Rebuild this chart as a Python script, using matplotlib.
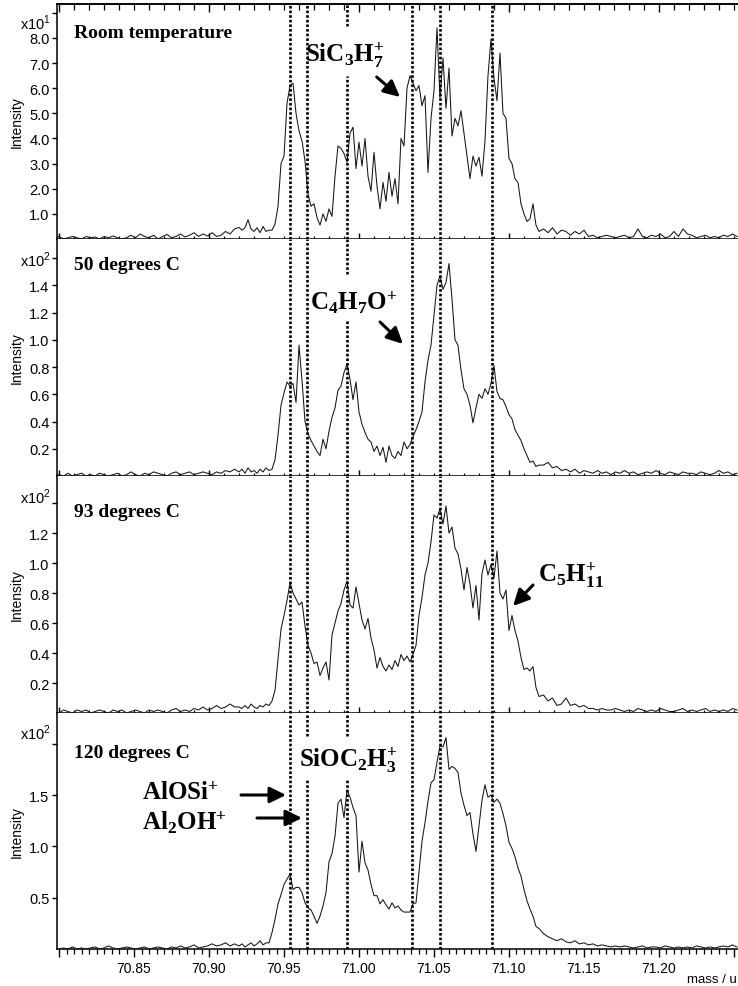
import matplotlib
matplotlib.use('Agg')
import matplotlib.pyplot as plt
from matplotlib.ticker import MultipleLocator, FixedLocator, NullFormatter

plt.rcParams['font.family'] = ['Liberation Sans', 'DejaVu Sans']
plt.rcParams['mathtext.fontset'] = 'custom'
plt.rcParams['mathtext.rm'] = 'Liberation Serif'
plt.rcParams['mathtext.bf'] = 'Liberation Serif:bold'
plt.rcParams['mathtext.sf'] = 'Liberation Sans'

# ---------------- data ----------------
mass_left = [70.797, 70.800, 70.803, 70.806, 70.809, 70.812, 70.815, 70.818, 70.821, 70.824,
             70.827, 70.830, 70.833, 70.836, 70.839, 70.842, 70.845, 70.848, 70.851, 70.854,
             70.857, 70.860, 70.863, 70.866, 70.869, 70.872, 70.875, 70.878, 70.881, 70.884,
             70.887, 70.890, 70.893, 70.896, 70.899, 70.902, 70.905, 70.908, 70.911, 70.914,
             70.917]
mass_peak = [70.920, 70.922, 70.924, 70.926, 70.928, 70.930, 70.932, 70.934, 70.936, 70.938,
             70.940, 70.942, 70.944, 70.946, 70.948, 70.950, 70.952, 70.954, 70.956, 70.958,
             70.960, 70.962, 70.964, 70.966, 70.968, 70.970, 70.972, 70.974, 70.976, 70.978,
             70.980, 70.982, 70.984, 70.986, 70.988, 70.990, 70.992, 70.994, 70.996, 70.998,
             71.000, 71.002, 71.004, 71.006, 71.008, 71.010, 71.012, 71.014, 71.016, 71.018,
             71.020, 71.022, 71.024, 71.026, 71.028, 71.030, 71.032, 71.034, 71.036, 71.038,
             71.040, 71.042, 71.044, 71.046, 71.048, 71.050, 71.052, 71.054, 71.056, 71.058,
             71.060, 71.062, 71.064, 71.066, 71.068, 71.070, 71.072, 71.074, 71.076, 71.078,
             71.080, 71.082, 71.084, 71.086, 71.088, 71.090, 71.092, 71.094, 71.096, 71.098,
             71.100, 71.102, 71.104, 71.106, 71.108, 71.110, 71.112, 71.114, 71.116, 71.118,
             71.120]
mass_right = [71.123, 71.126, 71.129, 71.132, 71.135, 71.138, 71.141, 71.144, 71.147, 71.150,
              71.153, 71.156, 71.159, 71.162, 71.165, 71.168, 71.171, 71.174, 71.177, 71.180,
              71.183, 71.186, 71.189, 71.192, 71.195, 71.198, 71.201, 71.204, 71.207, 71.210,
              71.213, 71.216, 71.219, 71.222, 71.225, 71.228, 71.231, 71.234, 71.237, 71.240,
              71.243, 71.246, 71.249, 71.252]
mass = mass_left + mass_peak + mass_right

# Room temperature (x10^1)
rt_left = [0.05, 0.1, 0.0, 0.05, 0.1, 0.05, 0.0, 0.1, 0.05, 0.08,
           0.0, 0.1, 0.05, 0.12, 0.05, 0.0, 0.05, 0.15, 0.05, 0.2,
           0.1, 0.05, 0.15, 0.0, 0.1, 0.18, 0.05, 0.1, 0.2, 0.08,
           0.15, 0.25, 0.1, 0.2, 0.12, 0.25, 0.1, 0.15, 0.3, 0.2,
           0.4]
rt_peak = [0.46, 0.35, 0.45, 0.77, 0.4, 0.3, 0.45, 0.25, 0.5, 0.3,
           0.35, 0.35, 0.6, 1.3, 3.0, 3.3, 5.4, 6.1, 6.2, 5.0,
           4.3, 3.9, 3.1, 1.8, 1.3, 1.4, 0.85, 0.55, 1.0, 0.7,
           1.2, 0.9, 2.5, 3.7, 3.6, 3.4, 3.05, 4.2, 4.45, 2.8,
           3.85, 2.9, 4.0, 2.5, 1.9, 3.45, 2.1, 1.2, 2.25, 1.5,
           2.65, 1.7, 2.4, 1.4, 4.0, 3.7, 6.0, 6.5, 6.2, 5.9,
           6.1, 5.3, 5.7, 2.65, 4.8, 5.9, 8.4, 5.6, 7.2, 5.2,
           6.8, 4.1, 4.8, 4.5, 5.1, 4.2, 3.3, 2.4, 3.3, 2.9,
           3.25, 2.5, 3.9, 6.5, 7.95, 6.4, 5.5, 7.4, 5.0, 4.8,
           3.2, 3.0, 2.4, 2.25, 1.4, 1.0, 0.7, 0.8, 1.4, 0.55,
           0.3]
rt_right = [0.4, 0.25, 0.45, 0.2, 0.35, 0.3, 0.15, 0.3, 0.2, 0.35,
            0.1, 0.15, 0.05, 0.1, 0.15, 0.1, 0.05, 0.1, 0.15, 0.05,
            0.1, 0.4, 0.1, 0.05, 0.15, 0.1, 0.2, 0.05, 0.1, 0.3,
            0.1, 0.4, 0.2, 0.15, 0.05, 0.1, 0.15, 0.05, 0.1, 0.05,
            0.15, 0.1, 0.2, 0.1]
int_rt = rt_left + rt_peak + rt_right

# 50 degrees C (x10^2)
c50_left = [0.0, 0.01, 0.0, 0.02, 0.0, 0.01, 0.02, 0.0, 0.01, 0.0,
            0.02, 0.01, 0.0, 0.01, 0.02, 0.0, 0.01, 0.03, 0.01, 0.0,
            0.02, 0.01, 0.03, 0.02, 0.01, 0.0, 0.02, 0.03, 0.01, 0.02,
            0.03, 0.01, 0.02, 0.03, 0.02, 0.01, 0.03, 0.02, 0.04, 0.03,
            0.05]
c50_peak = [0.03, 0.05, 0.02, 0.06, 0.03, 0.04, 0.02, 0.05, 0.03, 0.06,
            0.04, 0.05, 0.12, 0.3, 0.52, 0.61, 0.69, 0.66, 0.68, 0.54,
            0.96, 0.7, 0.4, 0.31, 0.26, 0.22, 0.18, 0.15, 0.27, 0.2,
            0.33, 0.43, 0.5, 0.63, 0.66, 0.76, 0.82, 0.71, 0.56, 0.69,
            0.47, 0.38, 0.32, 0.27, 0.25, 0.18, 0.22, 0.15, 0.21, 0.1,
            0.22, 0.15, 0.13, 0.18, 0.15, 0.25, 0.2, 0.23, 0.29, 0.34,
            0.4, 0.47, 0.69, 0.85, 0.96, 1.18, 1.4, 1.47, 1.37, 1.42,
            1.56, 1.3, 1.0, 0.96, 0.78, 0.64, 0.6, 0.52, 0.39, 0.5,
            0.6, 0.57, 0.64, 0.6, 0.68, 0.81, 0.62, 0.57, 0.56, 0.51,
            0.45, 0.42, 0.34, 0.3, 0.26, 0.2, 0.15, 0.1, 0.11, 0.07,
            0.08]
c50_right = [0.08, 0.1, 0.06, 0.07, 0.04, 0.05, 0.03, 0.05, 0.02, 0.04,
             0.03, 0.02, 0.04, 0.02, 0.03, 0.01, 0.03, 0.02, 0.04, 0.02,
             0.03, 0.01, 0.02, 0.03, 0.02, 0.04, 0.02, 0.01, 0.03, 0.02,
             0.01, 0.03, 0.02, 0.02, 0.01, 0.03, 0.02, 0.01, 0.02, 0.04,
             0.02, 0.03, 0.01, 0.02]
int_50 = c50_left + c50_peak + c50_right

# 93 degrees C (x10^2)
c93_left = [0.01, 0.0, 0.02, 0.01, 0.0, 0.02, 0.01, 0.02, 0.0, 0.01,
            0.02, 0.01, 0.0, 0.02, 0.01, 0.02, 0.0, 0.01, 0.02, 0.01,
            0.0, 0.02, 0.01, 0.02, 0.01, 0.0, 0.02, 0.03, 0.01, 0.02,
            0.01, 0.03, 0.02, 0.04, 0.02, 0.03, 0.05, 0.03, 0.04, 0.06,
            0.04]
c93_peak = [0.04, 0.03, 0.05, 0.03, 0.06, 0.04, 0.03, 0.05, 0.04, 0.06,
            0.05, 0.08, 0.15, 0.36, 0.56, 0.65, 0.75, 0.87, 0.8, 0.76,
            0.72, 0.74, 0.58, 0.45, 0.4, 0.33, 0.34, 0.25, 0.3, 0.34,
            0.22, 0.52, 0.6, 0.68, 0.73, 0.82, 0.88, 0.72, 0.7, 0.84,
            0.73, 0.62, 0.56, 0.63, 0.5, 0.42, 0.3, 0.37, 0.31, 0.28,
            0.32, 0.29, 0.35, 0.31, 0.39, 0.35, 0.38, 0.34, 0.39, 0.45,
            0.65, 0.77, 0.92, 1.0, 1.14, 1.32, 1.3, 1.36, 1.26, 1.38,
            1.2, 1.24, 1.1, 1.06, 0.96, 0.82, 0.97, 0.86, 0.7, 0.85,
            0.62, 0.93, 1.02, 0.92, 0.99, 0.9, 1.08, 0.8, 0.76, 0.82,
            0.55, 0.65, 0.55, 0.48, 0.37, 0.29, 0.3, 0.28, 0.31, 0.17,
            0.11]
c93_right = [0.12, 0.08, 0.1, 0.05, 0.06, 0.1, 0.05, 0.06, 0.04, 0.05,
             0.03, 0.03, 0.02, 0.03, 0.02, 0.02, 0.03, 0.02, 0.01, 0.02,
             0.01, 0.03, 0.02, 0.01, 0.02, 0.01, 0.03, 0.02, 0.01, 0.01,
             0.02, 0.03, 0.01, 0.02, 0.01, 0.02, 0.03, 0.01, 0.02, 0.01,
             0.02, 0.01, 0.03, 0.02]
int_93 = c93_left + c93_peak + c93_right

# 120 degrees C (x10^2)
c120_left = [0.01, 0.0, 0.01, 0.0, 0.02, 0.0, 0.01, 0.0, 0.01, 0.02,
             0.0, 0.01, 0.03, 0.01, 0.0, 0.01, 0.02, 0.01, 0.0, 0.01,
             0.02, 0.0, 0.01, 0.02, 0.01, 0.0, 0.02, 0.01, 0.03, 0.01,
             0.02, 0.04, 0.01, 0.02, 0.03, 0.05, 0.03, 0.04, 0.06, 0.03,
             0.05]
c120_peak = [0.03, 0.05, 0.02, 0.04, 0.06, 0.03, 0.05, 0.08, 0.04, 0.06,
             0.06, 0.16, 0.29, 0.44, 0.53, 0.63, 0.68, 0.73, 0.58, 0.6,
             0.6, 0.55, 0.45, 0.4, 0.38, 0.32, 0.25, 0.32, 0.42, 0.55,
             0.85, 0.93, 1.1, 1.42, 1.46, 1.28, 1.55, 1.48, 1.38, 1.3,
             0.75, 1.05, 0.84, 0.77, 0.63, 0.52, 0.52, 0.44, 0.48, 0.43,
             0.39, 0.45, 0.4, 0.42, 0.38, 0.36, 0.36, 0.36, 0.44, 0.45,
             0.75, 1.05, 1.23, 1.44, 1.62, 1.65, 1.82, 1.98, 1.97, 2.06,
             1.75, 1.78, 1.76, 1.72, 1.52, 1.4, 1.3, 1.33, 1.12, 0.95,
             1.2, 1.45, 1.6, 1.48, 1.5, 1.43, 1.46, 1.42, 1.32, 1.2,
             1.04, 0.98, 0.9, 0.79, 0.71, 0.58, 0.47, 0.39, 0.32, 0.22,
             0.2]
c120_right = [0.15, 0.12, 0.1, 0.08, 0.1, 0.07, 0.06, 0.08, 0.05, 0.06,
              0.04, 0.05, 0.03, 0.04, 0.03, 0.02, 0.03, 0.02, 0.03, 0.02,
              0.01, 0.02, 0.03, 0.01, 0.02, 0.02, 0.01, 0.03, 0.02, 0.01,
              0.02, 0.01, 0.02, 0.01, 0.03, 0.02, 0.01, 0.02, 0.01, 0.02,
              0.03, 0.02, 0.04, 0.02]
int_120 = c120_left + c120_peak + c120_right

panel_labels = ['Room temperature', '50 degrees C', '93 degrees C', '120 degrees C']
panel_exponents = ['1', '2', '2', '2']
panel_ymax = [9.36, 1.74, 1.58, 2.30]
panel_yticks = [[1.0, 2.0, 3.0, 4.0, 5.0, 6.0, 7.0, 8.0],
                [0.2, 0.4, 0.6, 0.8, 1.0, 1.2, 1.4],
                [0.2, 0.4, 0.6, 0.8, 1.0, 1.2],
                [0.5, 1.0, 1.5]]
panel_ytop_tick = [9.0, 1.6, 1.4, 2.0]
series = [int_rt, int_50, int_93, int_120]

line_masses = [70.9537, 70.9656, 70.9919, 71.0352, 71.0540, 71.0885]

xtick_values = [70.80, 70.85, 70.90, 70.95, 71.00, 71.05, 71.10, 71.15, 71.20, 71.25]
xtick_labels = ['', '70.85', '70.90', '70.95', '71.00', '71.05', '71.10', '71.15', '71.20', '']
x_min, x_max = 70.7983, 71.2527

# ---------------- layout ----------------
W, H = 738, 987
fig = plt.figure(figsize=(W / 100, H / 100), dpi=100)


def fx(px):
    return px / W


def fy(py):
    return 1 - py / H


panel_px = [(4.7, 240), (240, 477), (477, 714), (714, 950)]
left_px = 56.5

# gaps in dotted lines: (panel, line index) -> visible segments (axes fraction)
segments = {
    (0, 2): [(0.0, 0.693), (0.905, 1.0)],
    (1, 2): [(0.0, 0.662), (0.852, 1.0)],
    (3, 1): [(0.0, 0.720), (0.903, 1.0)],
    (3, 2): [(0.0, 0.720), (0.903, 1.0)],
}

label_base_px = [38, 270, 517, 758]
exp_center_px = [23, 260, 497, 733]

axes = []
for i in range(4):
    top, bot = panel_px[i]
    ax = fig.add_axes([fx(left_px), fy(bot), 1.0 - fx(left_px), (bot - top) / H])
    axes.append(ax)
    ax.plot(mass, series[i], color='#151515', lw=0.75, zorder=3)
    ax.set_xlim(x_min, x_max)
    ax.set_ylim(0, panel_ymax[i])

    for s in ['left', 'bottom', 'top', 'right']:
        ax.spines[s].set_linewidth(1.1)
    ax.spines['right'].set_visible(False)
    if i > 0:
        ax.spines['top'].set_visible(False)

    # y ticks
    yt = panel_yticks[i] + [panel_ytop_tick[i]]
    ylab = ['%.1f' % v for v in panel_yticks[i]] + ['']
    ax.yaxis.set_major_locator(FixedLocator(yt))
    ax.set_yticklabels(ylab)
    ax.tick_params(axis='y', direction='out', length=3.5, width=1.0, labelsize=10.5, pad=1.5)

    # x ticks
    if i < 3:
        ax.xaxis.set_major_locator(MultipleLocator(0.1))
        ax.xaxis.set_minor_locator(MultipleLocator(0.01))
        ax.xaxis.set_major_formatter(NullFormatter())
        ax.tick_params(axis='x', which='major', direction='inout', length=8, width=1.0,
                       labelbottom=False, top=False)
        ax.tick_params(axis='x', which='minor', direction='inout', length=5, width=0.9,
                       top=False)
    else:
        ax.xaxis.set_major_locator(FixedLocator(xtick_values))
        ax.set_xticklabels(xtick_labels)
        ax.xaxis.set_minor_locator(MultipleLocator(0.005))
        ax.tick_params(axis='x', which='major', direction='out', length=6, width=1.0,
                       labelsize=10, pad=3)
        ax.tick_params(axis='x', which='minor', direction='out', length=3.5, width=0.9)

    if i == 0:
        sec = ax.secondary_xaxis('top')
        sec.xaxis.set_major_locator(MultipleLocator(0.1))
        sec.xaxis.set_minor_locator(MultipleLocator(0.01))
        sec.xaxis.set_major_formatter(NullFormatter())
        sec.tick_params(axis='x', which='major', direction='in', length=6, width=1.0)
        sec.tick_params(axis='x', which='minor', direction='in', length=4, width=0.9)
        sec.spines['top'].set_linewidth(1.1)

    # dotted reference lines
    for j, m in enumerate(line_masses):
        for (y0, y1) in segments.get((i, j), [(0.0, 1.0)]):
            ax.axvline(m, ymin=y0, ymax=y1, color='black', lw=1.9,
                       linestyle=(0, (1.0, 0.75)), zorder=4)

    # panel text
    fig.text(fx(74), fy(label_base_px[i]), panel_labels[i], family='Liberation Serif',
             weight='bold', fontsize=14, ha='left', va='baseline')
    fig.text(fx(51), fy(exp_center_px[i]), r'x10$^{\mathsf{%s}}$' % panel_exponents[i],
             fontsize=10.5, ha='right', va='center')
    fig.text(fx(16.5), fy((top + bot) / 2), 'Intensity', rotation=90, fontsize=10,
             ha='center', va='center')

fig.text(fx(737), fy(980), 'mass / u', fontsize=9.5, ha='right', va='center')

# ion labels
ion_texts = [r'$\mathbf{SiC_3H_7^{{+}}}$', r'$\mathbf{C_4H_7O^{{+}}}$',
             r'$\mathbf{C_5H_{11}^{{+}}}$', r'$\mathbf{SiOC_2H_3^{{+}}}$',
             r'$\mathbf{AlOSi^{{+}}}$', r'$\mathbf{Al_2OH^{{+}}}$']
ion_pos_px = [(305, 62), (310, 310), (538, 582), (299, 767), (142, 800), (142, 830)]
for t, (px, py) in zip(ion_texts, ion_pos_px):
    fig.text(fx(px), fy(py), t, fontsize=18, ha='left', va='baseline')

arrows_px = [((376.7, 78), (400, 98)),
             ((380, 323), (403, 345)),
             ((533, 586), (513, 607)),
             ((241, 796), (286, 796)),
             ((257, 819), (302, 819))]
for (s, e) in arrows_px:
    fig.add_artist(matplotlib.patches.FancyArrowPatch(
        (fx(s[0]), fy(s[1])), (fx(e[0]), fy(e[1])), transform=fig.transFigure,
        arrowstyle='-|>,head_length=0.65,head_width=0.32', mutation_scale=15,
        lw=2.2, color='black', shrinkA=0, shrinkB=0))

fig.savefig('out.png', dpi=100)
